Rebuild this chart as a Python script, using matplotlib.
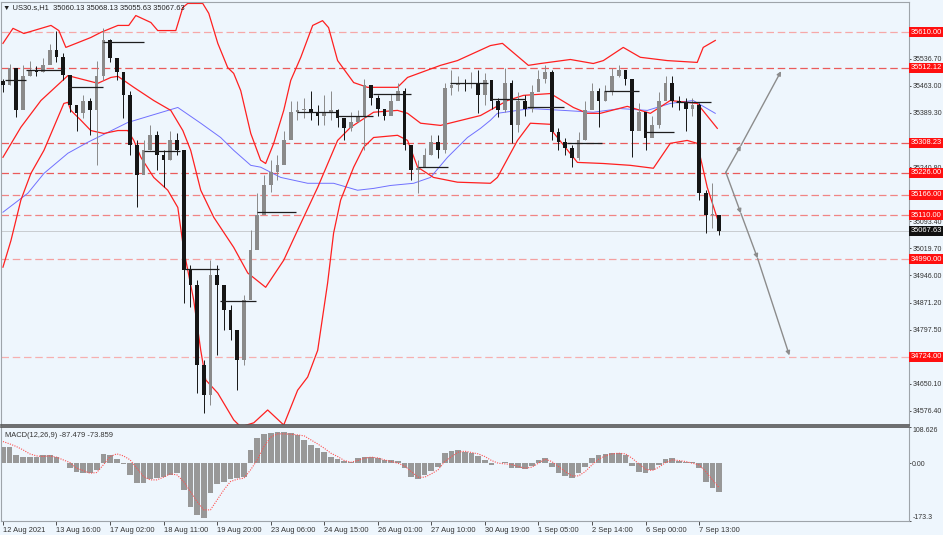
import numpy as np
import matplotlib.pyplot as plt
import matplotlib.transforms as mtransforms

# US30 H1 chart, one candle drawn per 4 hourly bars (x = hourly bar index)
bar_idx = np.arange(0, 432, 4)
close = [35464, 35511, 35396, 35491, 35505, 35500, 35519, 35560, 35543, 35494,
         35410, 35388, 35423, 35396, 35491, 35587, 35538, 35500, 35437, 35301,
         35219, 35287, 35328, 35273, 35260, 35314, 35287, 34960, 34919, 34701,
         34619, 34946, 34919, 34851, 34796, 34714, 34878, 35014, 35110, 35191,
         35227, 35246, 35314, 35391, 35396, 35401, 35391, 35382, 35391, 35396,
         35374, 35347, 35363, 35382, 35464, 35429, 35401, 35382, 35423, 35450,
         35301, 35232, 35238, 35273, 35309, 35287, 35456, 35464, 35472, 35467,
         35472, 35437, 35478, 35423, 35396, 35472, 35355, 35423, 35401, 35445,
         35483, 35500, 35336, 35309, 35292, 35265, 35314, 35396, 35450, 35423,
         35445, 35491, 35505, 35483, 35341, 35391, 35320, 35355, 35423, 35472,
         35423, 35418, 35401, 35410, 35170, 35110, 35110, 35067.63]
high = [35483, 35524, 35505, 35519, 35532, 35516, 35538, 35576, 35614, 35554,
        35461, 35410, 35437, 35429, 35532, 35622, 35592, 35538, 35500, 35450,
        35314, 35314, 35355, 35341, 35287, 35341, 35333, 35287, 34973, 34932,
        34714, 34987, 34973, 34905, 34864, 34782, 34892, 35069, 35170, 35219,
        35260, 35273, 35341, 35423, 35423, 35429, 35450, 35412, 35437, 35450,
        35401, 35374, 35391, 35396, 35483, 35464, 35437, 35401, 35442, 35470,
        35456, 35301, 35260, 35292, 35328, 35328, 35472, 35505, 35491, 35483,
        35500, 35505, 35497, 35478, 35429, 35511, 35478, 35445, 35437, 35464,
        35505, 35519, 35505, 35347, 35320, 35301, 35336, 35423, 35470, 35456,
        35464, 35511, 35519, 35505, 35478, 35415, 35355, 35382, 35445, 35491,
        35491, 35434, 35431, 35429, 35415, 35178, 35197, 35096]
low = [35445, 35464, 35377, 35423, 35491, 35489, 35500, 35538, 35527, 35478,
       35391, 35341, 35374, 35328, 35246, 35478, 35527, 35478, 35374, 35273,
       35131, 35260, 35287, 35232, 35186, 35260, 35273, 34870, 34859, 34624,
       34570, 34592, 34728, 34796, 34769, 34632, 34701, 34946, 35069, 35151,
       35172, 35205, 35260, 35355, 35369, 35374, 35369, 35355, 35355, 35369,
       35350, 35314, 35341, 35363, 35287, 35410, 35382, 35369, 35391, 35429,
       35287, 35205, 35170, 35246, 35273, 35265, 35281, 35437, 35450, 35450,
       35456, 35388, 35410, 35401, 35377, 35391, 35306, 35336, 35382, 35391,
       35450, 35472, 35314, 35287, 35273, 35241, 35260, 35314, 35423, 35350,
       35423, 35437, 35486, 35464, 35268, 35347, 35287, 35328, 35347, 35437,
       35404, 35396, 35341, 35382, 35151, 35061, 35074, 35055]
open_ = [35475] + close[:-1]

# Bollinger band (red) and moving average (blue), read as (bar index, price)
bb_up_idx = [0, 6, 12.5, 28.7, 33.4, 37.6, 44.8, 52.5, 58.5, 68.7, 75.2, 79.4, 88.4, 92.5,
             103.3, 107.5, 110.4, 119.4, 123, 128.4, 134.3, 137.9, 142.1, 148.1, 154, 157,
             161.8, 167.8, 172, 178, 185.1, 191, 194.6, 200, 209.6, 217.9, 235.8, 241.8,
             261.5, 271.6, 291.3, 298.5, 314, 321.2, 339.1, 352.8, 358.8, 370.7, 380.9,
             397, 414.9, 418.5, 425.7]
bb_up = [35579, 35620, 35606, 35628, 35614, 35568, 35581, 35595, 35609, 35628, 35628, 35655,
         35636, 35614, 35614, 35677, 35688, 35688, 35661, 35579, 35513, 35497, 35450, 35333,
         35260, 35251, 35306, 35396, 35478, 35541, 35628, 35641, 35622, 35532, 35472, 35459,
         35459, 35486, 35519, 35532, 35573, 35579, 35519, 35524, 35535, 35524, 35532, 35568,
         35541, 35532, 35527, 35568, 35587]
bb_mid_idx = [0, 10.7, 22.7, 38.8, 56.7, 64.5, 68.7, 78.2, 90.1, 100.3, 107.5, 112.2, 118.2,
              126, 137.9, 146.3, 157, 167.8, 176.1, 188.1, 200, 207.8, 221.5, 235.8, 241.8,
              249.6, 261.5, 285.4, 301.5, 311, 327.2, 340.9, 349.3, 357, 373.1, 386.9, 398.8,
              414.9, 426.9]
bb_mid = [35268, 35350, 35423, 35491, 35470, 35486, 35489, 35459, 35423, 35396, 35341, 35287,
          35178, 35104, 35022, 34952, 34913, 34987, 35069, 35186, 35314, 35350, 35391, 35396,
          35388, 35361, 35355, 35382, 35423, 35437, 35442, 35404, 35388, 35388, 35407, 35388,
          35423, 35415, 35347]
bb_low_idx = [0, 4.8, 10.7, 16.7, 24.5, 36.4, 38.8, 40.6, 46.6, 52.5, 60.3, 68.7, 74.6, 78.2,
              82.4, 90.1, 98.5, 104.5, 108.1, 114, 118.2, 121.2, 128.4, 137.9, 142.1, 149.9,
              158.2, 167.8, 176.1, 182.1, 188.1, 194, 197.6, 201.8, 209.6, 215.5, 221.5, 235.8,
              241.8, 247.8, 257.3, 271.6, 291.3, 295.5, 307.5, 315.2, 327.2, 328.9, 343.3,
              358.8, 374.9, 388.7, 398.8, 408.9, 414.9, 420.9, 426.9]
bb_low = [34968, 35041, 35151, 35224, 35287, 35415, 35418, 35396, 35369, 35341, 35333, 35341,
          35341, 35314, 35268, 35213, 35178, 35131, 35014, 34878, 34741, 34660, 34624, 34551,
          34532, 34543, 34578, 34537, 34632, 34668, 34741, 34924, 35061, 35151, 35241, 35295,
          35322, 35328, 35314, 35241, 35213, 35200, 35197, 35213, 35314, 35361, 35358, 35336,
          35254, 35251, 35246, 35238, 35306, 35314, 35306, 35186, 35101]
ma_idx = [0, 14.9, 24.5, 38.8, 50.7, 62.7, 74.6, 88.4, 104.5, 118.2, 130.1, 137.9, 148.1, 154,
          166, 182.1, 197.6, 211.9, 221.5, 231.6, 245.4, 255.5, 265.7, 277.6, 285.4, 291.3,
          295.5, 315.2, 334.9, 352.8, 369, 385.1, 398.8, 412.5, 425.7]
ma = [35118, 35170, 35224, 35279, 35309, 35336, 35363, 35382, 35404, 35361, 35322, 35287,
      35246, 35241, 35213, 35197, 35197, 35178, 35183, 35191, 35197, 35213, 35268, 35322,
      35347, 35369, 35388, 35401, 35396, 35391, 35401, 35396, 35415, 35423, 35388]

# short black daily segments: start bar, end bar, price
seg_start = [1, 14, 39, 60, 84, 108, 130, 152, 176, 200, 221, 248, 267, 291, 313, 337, 359, 383, 402]
seg_end = [14, 36, 60, 84, 106, 129, 151, 175, 199, 221, 244, 266, 290, 312, 335, 358, 380, 401, 423]
seg_price = [35478, 35505, 35461, 35582, 35284, 34963, 34875, 35118, 35391, 35380, 35442,
             35241, 35472, 35426, 35404, 35306, 35448, 35336, 35418]

# horizontal levels
levels = [35610.00, 35512.12, 35308.23, 35226.00, 35166.00, 35110.00, 34990.00, 34724.00]
level_colors = ['#f6a8a8', '#ea5b5b', '#ea5b5b', '#ea5b5b', '#f08585', '#f08585', '#f4a0a0', '#f6b0b0']
last_price = 35067.63

# projection arrows
up_idx = [432, 441, 465]
up_price = [35227, 35300, 35503]
dn_idx = [432, 441, 451, 470]
dn_price = [35227, 35115, 34992, 34727]

price_ticks = [35536.70, 35463.00, 35389.30, 35314.60, 35240.80, 35093.40, 35019.70,
               34946.00, 34871.20, 34797.50, 34650.10, 34576.40]

# MACD
macd_hist = [50, 50, 25, 20, 20, 20, 25, 25, 20, 2, -15, -25, -28, -28, -20, 28, 25, 12, -2, -35,
             -60, -60, -48, -45, -40, -35, -30, -80, -130, -155, -164, -90, -62, -55, -48, -45,
             -40, 40, 75, 88, 92, 95, 95, 90, 85, 70, 55, 45, 35, 20, 12, 8, 5, 15, 20, 20, 15,
             10, 10, 8, -15, -40, -48, -35, -22, -10, 32, 38, 40, 35, 30, 22, 10, -5, 2, 5, -15,
             -15, -18, -8, 10, 15, -10, -28, -38, -45, -30, -12, 15, 25, 28, 30, 30, 25, -8, -25,
             -30, -20, -5, 12, 15, 8, 5, 3, -15, -55, -75, -87.479]
macd_signal = [65, 58, 50, 40, 28, 22, 20, 22, 18, 10, 2, -15, -22, -30, -28, -5, 20, 28, 22, 10,
               -15, -40, -50, -50, -42, -32, -35, -55, -85, -115, -140, -140, -110, -80, -55, -48,
               -45, -20, 10, 50, 78, 88, 88, 87, 85, 82, 70, 58, 45, 30, 20, 8, 3, 8, 15, 18, 16,
               10, 5, 0, -8, -25, -42, -42, -32, -20, 5, 20, 33, 36, 32, 28, 20, 8, 0, -2, -4,
               -10, -15, -12, 0, 12, 5, -10, -25, -38, -38, -25, -5, 12, 22, 28, 30, 28, 15, -2,
               -18, -22, -12, 2, 10, 8, 5, 0, -5, -25, -50, -73.859]

date_idx = np.arange(0, 417, 32)
date_labels = ['12 Aug 2021', '13 Aug 16:00', '17 Aug 02:00', '18 Aug 11:00', '19 Aug 20:00',
               '23 Aug 06:00', '24 Aug 15:00', '26 Aug 01:00', '27 Aug 10:00', '30 Aug 19:00',
               '1 Sep 05:00', '2 Sep 14:00', '6 Sep 00:00', '7 Sep 13:00']

bg = '#eef6fd'
fs = 5.4
axfs = 5.0
plt.rcParams['font.family'] = ['Liberation Sans Narrow', 'Liberation Sans', 'DejaVu Sans']

fig = plt.figure(figsize=(9.43, 5.35), dpi=100, facecolor=bg)
ax = fig.add_axes([0.001, 0.2056, 0.963, 0.790], facecolor=bg)
mac = fig.add_axes([0.001, 0.0262, 0.963, 0.1757], facecolor=bg, sharex=ax)

# levels and last price line
for lv, c in zip(levels, level_colors):
    ax.axhline(lv, color=c, lw=0.9, ls=(0, (6, 3)), zorder=1)
ax.axhline(last_price, color='#c8ccd0', lw=0.7, zorder=1)

# indicators
ax.plot(ma_idx, ma, color='#7070ff', lw=0.7, zorder=2)
for xs, ys in [(bb_up_idx, bb_up), (bb_mid_idx, bb_mid), (bb_low_idx, bb_low)]:
    ax.plot(xs, ys, color='#ff2020', lw=0.9, zorder=2)

# candles
cols = ['#8a8a8a' if c >= o else '#151515' for o, c in zip(open_, close)]
ax.vlines(bar_idx, low, high, colors=cols, lw=0.7, zorder=3)
body_lo = np.minimum(open_, close)
body_h = np.maximum(np.abs(np.array(close) - np.array(open_)), 2)
ax.bar(bar_idx, body_h, bottom=body_lo, width=2.2, color=cols, zorder=3)

ax.hlines(seg_price, seg_start, seg_end, colors='#1e1e1e', lw=0.9, zorder=4)

# arrows
for xs, ys in [(up_idx, up_price), (dn_idx, dn_price)]:
    for i in range(len(xs) - 1):
        ax.annotate('', xy=(xs[i + 1], ys[i + 1]), xytext=(xs[i], ys[i]),
                    arrowprops=dict(arrowstyle='-|>', color='#8c8c8c', lw=1.0,
                                    mutation_scale=6, shrinkA=0, shrinkB=0))

ax.set_xlim(-1.2, 541.5)
ax.set_ylim(34537, 35691)
ax.yaxis.tick_right()
ax.set_yticks(price_ticks)
ax.set_yticklabels(['%.2f' % p for p in price_ticks])
ax.tick_params(axis='y', length=1.5, labelsize=axfs, pad=0.8, colors='#333333', width=0.6)
ax.tick_params(axis='x', length=0, labelbottom=False)

# price labels on the right axis
trans = mtransforms.blended_transform_factory(ax.transAxes, ax.transData)
for lv in levels:
    ax.text(1.002, lv, '%.2f' % lv, transform=trans, fontsize=fs, color='white', va='center',
            ha='left', bbox=dict(boxstyle='square,pad=0.2', fc='#ff1010', ec='none'), zorder=6,
            clip_on=False)
ax.text(1.002, last_price, '%.2f' % last_price, transform=trans, fontsize=fs, color='white',
        va='center', ha='left', bbox=dict(boxstyle='square,pad=0.2', fc='#111111', ec='none'),
        zorder=6, clip_on=False)

# MACD panel
mac.bar(bar_idx, macd_hist, width=3.4, color='#989898', zorder=2)
mac.plot(bar_idx, macd_signal, color='#ff5050', lw=0.8, ls=(0, (1, 1.2)), zorder=3)
mac.set_ylim(-173.3, 108.626)
mac.yaxis.tick_right()
mac.set_yticks([108.626, 0, -173.3])
mac.set_yticklabels(['108.626', '0.00', '-173.3'])
mac.tick_params(axis='y', length=1.5, labelsize=axfs, pad=0.8, colors='#333333', width=0.6)
ylabs = mac.get_yticklabels()
ylabs[0].set_va('top')
ylabs[2].set_va('bottom')
mac.set_xticks(date_idx)
mac.set_xticklabels(date_labels)
for t in mac.get_xticklabels():
    t.set_ha('left')
mac.tick_params(axis='x', length=3, labelsize=fs, pad=1.5, colors='#333333', width=0.6)
mac.text(0.004, 0.95, 'MACD(12,26,9) -87.479 -73.859', transform=mac.transAxes,
         fontsize=fs, va='top', color='#333333')

for a in (ax, mac):
    for s in a.spines.values():
        s.set_color('#9ea4aa')
        s.set_linewidth(0.8)
ax.spines['bottom'].set_color('#555555')
ax.spines['bottom'].set_linewidth(1.2)
mac.spines['top'].set_color('#555555')
mac.spines['top'].set_linewidth(1.2)

fig.text(3 / 943, 1 - 8 / 535, '\u25bc US30.s,H1  35060.13 35068.13 35055.63 35067.63',
         fontsize=fs, va='center', color='#222222')

fig.savefig('out.png', dpi=100, facecolor=bg)
